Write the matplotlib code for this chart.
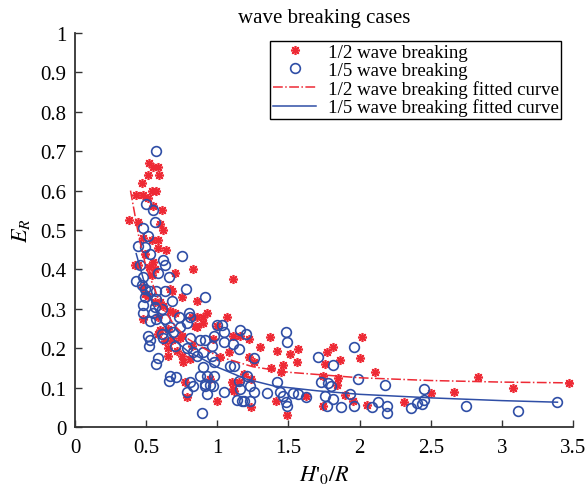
import numpy as np
import matplotlib
matplotlib.use("Agg")
import matplotlib.pyplot as plt

plt.rcParams['font.family'] = ['Liberation Serif', 'DejaVu Serif']
plt.rcParams['mathtext.fontset'] = 'stix'

# 1/2 wave breaking (red asterisks)
half_x = [0.52, 0.55, 0.58, 0.51, 0.59, 0.47, 0.54, 0.57, 0.43, 0.48, 0.51, 0.55, 0.61, 0.38, 0.44,
          0.60, 0.62, 0.48, 0.58, 0.54, 0.58, 0.64, 0.49, 0.83, 0.70, 0.44, 0.55, 0.56, 0.54, 0.42,
          0.52, 0.68, 0.75, 0.49, 0.86, 0.60, 0.67, 0.48, 0.58, 0.86, 0.90, 0.93, 0.90, 0.86, 0.60,
          0.65, 0.68, 0.65, 0.74, 0.75, 0.76, 0.81, 0.77, 0.79, 0.48, 0.67, 0.51, 0.56, 0.62, 0.70,
          0.82, 0.84, 0.58, 0.75, 0.63, 0.72, 0.82, 0.65, 0.97, 1.11, 1.07, 1.00, 1.11, 1.16, 1.22,
          1.37, 1.30, 1.42, 1.51, 1.57, 1.08, 1.02, 1.22, 1.26, 1.56, 1.46, 1.38, 1.45, 1.77, 1.81,
          1.76, 1.10, 1.15, 1.24, 1.12, 1.00, 1.24, 1.41, 1.62, 1.49, 1.74, 1.19, 1.74, 1.11, 0.95,
          2.02, 1.86, 2.00, 2.11, 1.85, 1.84, 1.90, 1.95, 2.05, 2.31, 2.50, 2.66, 2.83, 3.08, 3.47]
half_y = [0.670, 0.660, 0.660, 0.640, 0.640, 0.620, 0.600, 0.600, 0.590, 0.590, 0.580, 0.560, 0.550, 0.525, 0.520,
          0.515, 0.500, 0.480, 0.475, 0.475, 0.455, 0.450, 0.440, 0.400, 0.390, 0.410, 0.420, 0.400, 0.385, 0.410,
          0.405, 0.345, 0.330, 0.337, 0.320, 0.317, 0.295, 0.275, 0.280, 0.280, 0.280, 0.290, 0.265, 0.255, 0.245,
          0.250, 0.220, 0.200, 0.225, 0.180, 0.165, 0.172, 0.115, 0.076, 0.355, 0.350, 0.333, 0.317, 0.307, 0.290,
          0.280, 0.257, 0.236, 0.231, 0.218, 0.193, 0.206, 0.180, 0.223, 0.375, 0.280, 0.257, 0.230, 0.230, 0.223,
          0.229, 0.203, 0.193, 0.185, 0.198, 0.190, 0.178, 0.178, 0.165, 0.165, 0.157, 0.150, 0.140, 0.190, 0.203,
          0.160, 0.114, 0.114, 0.122, 0.091, 0.066, 0.050, 0.066, 0.079, 0.030, 0.053, 0.135, 0.130, 0.096, 0.122,
          0.228, 0.170, 0.175, 0.140, 0.124, 0.107, 0.081, 0.066, 0.056, 0.063, 0.086, 0.089, 0.127, 0.099, 0.112]

# 1/5 wave breaking (blue circles)
fifth_x = [0.57, 0.50, 0.55, 0.56, 0.48, 0.51, 0.44, 0.49, 0.53, 0.62, 0.75, 0.63, 0.46, 0.58, 0.66, 0.48,
           0.43, 0.47, 0.49, 0.53, 0.57, 0.63, 0.78, 0.91, 0.49, 0.57, 0.48, 0.56, 0.61, 0.48, 0.55, 0.57,
           0.53, 0.63, 0.67, 0.73, 0.80, 0.81, 0.74, 0.69, 0.61, 0.51, 0.53, 0.52, 0.62, 0.70, 0.79, 0.83,
           0.81, 0.88, 0.91, 0.90, 0.86, 0.58, 0.57, 0.67, 0.66, 0.71, 0.81, 0.83, 0.91, 0.93, 0.88, 0.79,
           0.89, 0.68, 0.79, 1.00, 0.96, 1.03, 1.05, 0.98, 1.16, 1.20, 1.05, 1.11, 1.15, 0.96, 0.98, 1.26,
           1.09, 1.12, 0.90, 0.93, 0.98, 0.91, 0.95, 0.97, 1.15, 1.21, 1.23, 1.16, 1.05, 1.14, 1.17, 1.19,
           1.23, 1.26, 1.35, 1.42, 1.44, 1.46, 1.48, 1.49, 1.48, 1.49, 1.53, 1.57, 1.62, 1.71, 1.73, 1.78,
           1.81, 1.76, 1.77, 1.96, 1.99, 1.80, 1.93, 1.81, 1.87, 1.96, 2.09, 2.13, 2.18, 2.19, 2.19, 2.36,
           2.40, 2.44, 2.45, 2.45, 2.75, 3.11, 3.39]
fifth_y = [0.700, 0.565, 0.550, 0.520, 0.505, 0.485, 0.460, 0.457, 0.440, 0.425, 0.435, 0.410, 0.410, 0.390, 0.380, 0.380,
           0.370, 0.360, 0.350, 0.345, 0.345, 0.345, 0.350, 0.330, 0.330, 0.325, 0.310, 0.305, 0.300, 0.290, 0.290, 0.275,
           0.270, 0.275, 0.255, 0.280, 0.290, 0.280, 0.255, 0.240, 0.235, 0.230, 0.220, 0.205, 0.225, 0.205, 0.200, 0.190,
           0.225, 0.220, 0.220, 0.190, 0.180, 0.175, 0.160, 0.130, 0.117, 0.127, 0.115, 0.104, 0.104, 0.084, 0.130, 0.090,
           0.036, 0.320, 0.264, 0.260, 0.205, 0.260, 0.240, 0.230, 0.245, 0.235, 0.215, 0.210, 0.198, 0.180, 0.165, 0.175,
           0.155, 0.155, 0.152, 0.130, 0.130, 0.110, 0.107, 0.104, 0.117, 0.130, 0.104, 0.096, 0.089, 0.069, 0.066, 0.066,
           0.066, 0.089, 0.086, 0.114, 0.089, 0.079, 0.064, 0.053, 0.240, 0.215, 0.086, 0.084, 0.076, 0.177, 0.114, 0.112,
           0.157, 0.079, 0.053, 0.203, 0.122, 0.104, 0.084, 0.071, 0.050, 0.053, 0.050, 0.064, 0.107, 0.053, 0.036, 0.048,
           0.061, 0.058, 0.069, 0.096, 0.053, 0.040, 0.063]

# fitted curves
fit_half_x = [0.39, 0.45, 0.50, 0.60, 0.70, 0.80, 1.00, 1.25, 1.50, 2.00, 2.50, 3.00, 3.50]
fit_half_y = [0.600, 0.480, 0.405, 0.312, 0.257, 0.222, 0.180, 0.153, 0.139, 0.125, 0.118, 0.114, 0.112]
fit_fifth_x = [0.43, 0.50, 0.60, 0.70, 0.80, 0.90, 1.00, 1.20, 1.40, 1.70, 2.00, 2.50, 3.00, 3.39]
fit_fifth_y = [0.440, 0.350, 0.270, 0.220, 0.190, 0.172, 0.152, 0.122, 0.104, 0.092, 0.083, 0.074, 0.067, 0.063]

red = '#ee2a35'
blue = '#2f4ea6'

fig = plt.figure(figsize=(5.86, 4.89), dpi=100)
ax = fig.add_axes([0.128, 0.1247, 0.85, 0.8058])

ax.plot(half_x, half_y, ls='none', marker=(8, 2, 0), ms=6.5, mew=1.2, color=red,
        label='1/2 wave breaking')
ax.plot(fifth_x, fifth_y, ls='none', marker='o', ms=7, mew=1.2, mfc='none', mec=blue,
        label='1/5 wave breaking')
ax.plot(fit_half_x, fit_half_y, ls='-.', lw=1.1, color=red,
        label='1/2 wave breaking fitted curve')
ax.plot(fit_fifth_x, fit_fifth_y, ls='-', lw=1.1, color=blue,
        label='1/5 wave breaking fitted curve')

ax.set_xlim(0, 3.5)
ax.set_ylim(0, 1)
ax.set_xticks([0, 0.5, 1, 1.5, 2, 2.5, 3, 3.5])
ax.set_xticklabels(['0', '0.5', '1', '1.5', '2', '2.5', '3', '3.5'])
ax.set_yticks(np.arange(0, 1.01, 0.1))
ax.set_yticklabels(['0', '0.1', '0.2', '0.3', '0.4', '0.5', '0.6', '0.7', '0.8', '0.9', '1'])
ax.tick_params(direction='in', length=5, width=1, labelsize=15, color='#333333')
ax.tick_params(axis='x', pad=8)
ax.tick_params(axis='y', pad=6)
ax.spines['top'].set_visible(False)
ax.spines['right'].set_visible(False)
for s in ['left', 'bottom']:
    ax.spines[s].set_linewidth(1.3)
    ax.spines[s].set_color('#333333')

ax.set_title('wave breaking cases', fontsize=15, pad=8)
ax.set_xlabel(r"$H$'$_0/R$", fontsize=16, labelpad=4)
ax.set_ylabel(r'$E_R$', fontsize=16, labelpad=6)

leg = ax.legend(loc='upper left', bbox_to_anchor=(270 / 586, 1 - 42 / 489),
                bbox_transform=fig.transFigure, borderaxespad=0, fontsize=13.6,
                handlelength=2.3, labelspacing=0.04, borderpad=0.15, handletextpad=0.6,
                fancybox=False, edgecolor='black', framealpha=1)
leg.get_frame().set_linewidth(1.0)

fig.savefig('out.png', dpi=100)
